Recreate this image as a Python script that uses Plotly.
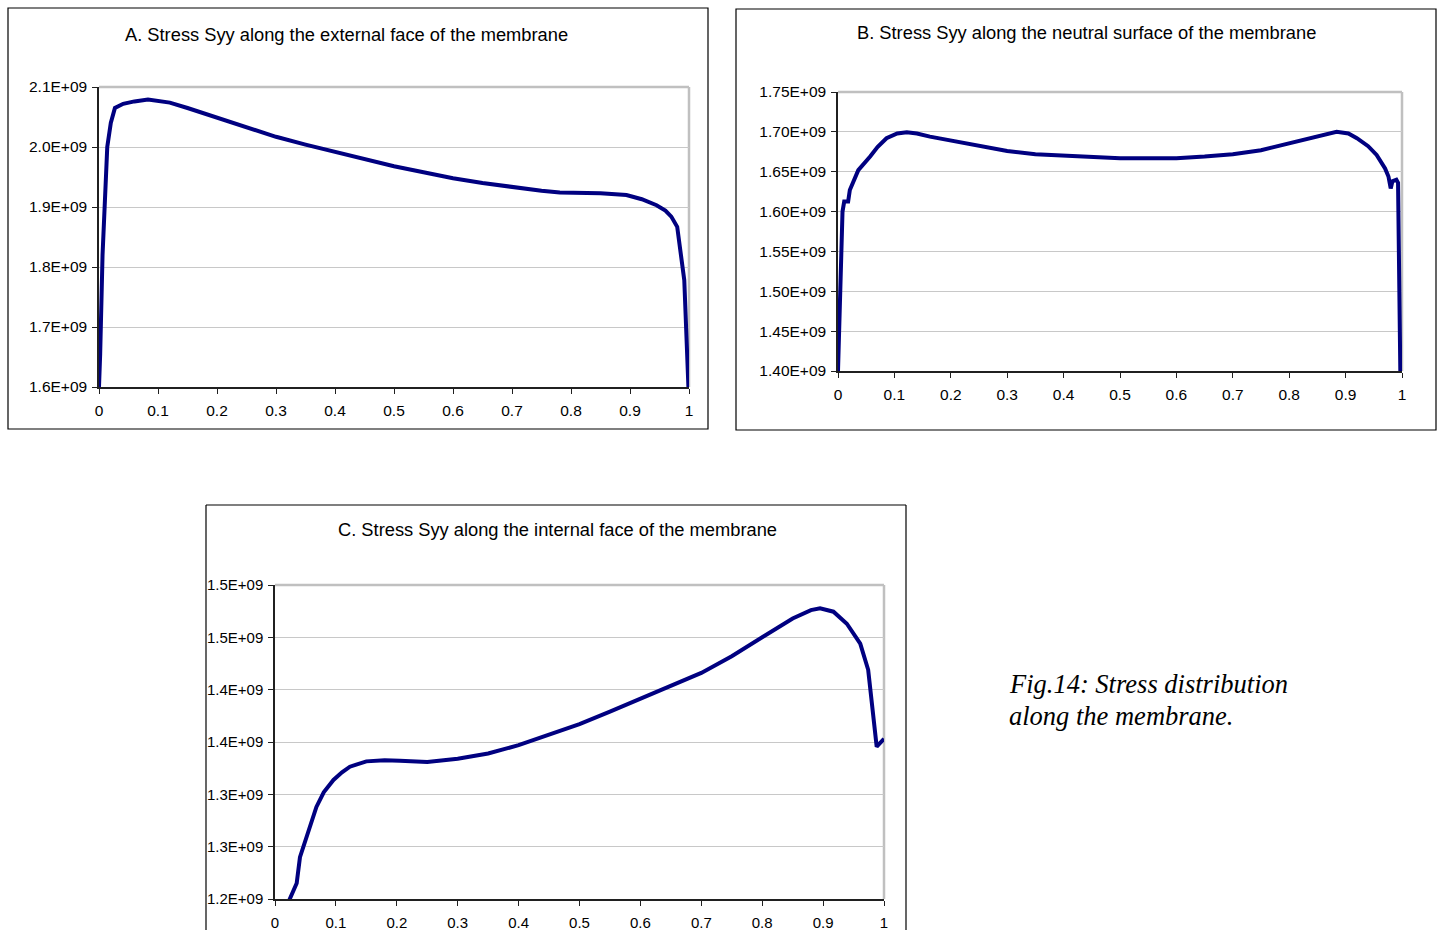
import plotly.graph_objects as go

W, H = 1442, 930

# ---- Data ----
a_x = [0.0, 0.002, 0.006, 0.010, 0.014, 0.020, 0.027, 0.041, 0.060, 0.083, 0.100, 0.120, 0.150,
       0.175, 0.200, 0.250, 0.300, 0.350, 0.400, 0.450, 0.500, 0.550, 0.600, 0.650, 0.700, 0.750,
       0.781, 0.850, 0.894, 0.920, 0.945, 0.960, 0.970, 0.980, 0.992, 0.999]
a_y = [1.600, 1.655, 1.820, 1.917, 2.000, 2.040, 2.065, 2.072, 2.076, 2.079, 2.077, 2.074, 2.065,
       2.057, 2.048, 2.032, 2.017, 2.004, 1.992, 1.980, 1.968, 1.958, 1.948, 1.940, 1.933, 1.927,
       1.924, 1.923, 1.920, 1.913, 1.903, 1.894, 1.884, 1.867, 1.778, 1.600]

b_x = [0.0, 0.004, 0.008, 0.011, 0.018, 0.021, 0.036, 0.057, 0.070, 0.086, 0.105, 0.122, 0.140,
       0.163, 0.200, 0.250, 0.300, 0.350, 0.400, 0.450, 0.500, 0.550, 0.600, 0.650, 0.700, 0.750,
       0.800, 0.850, 0.884, 0.905, 0.920, 0.940, 0.955, 0.970, 0.976,
       0.980, 0.983, 0.990, 0.993, 0.997]
b_y = [1.400, 1.520, 1.600, 1.6125, 1.6125, 1.627, 1.652, 1.669, 1.681, 1.692, 1.698, 1.6995, 1.698,
       1.694, 1.689, 1.682, 1.676, 1.672, 1.670, 1.668, 1.667, 1.667, 1.667, 1.669, 1.672, 1.677,
       1.686, 1.695, 1.700, 1.698, 1.692, 1.682, 1.671, 1.654, 1.644,
       1.629, 1.638, 1.640, 1.636, 1.400]

c_x = [0.0235, 0.030, 0.0356, 0.041, 0.052, 0.068, 0.080, 0.096, 0.110, 0.123, 0.150, 0.180, 0.205,
       0.250, 0.300, 0.350, 0.400, 0.450, 0.500, 0.550, 0.600, 0.650, 0.700, 0.750, 0.800, 0.850,
       0.880, 0.895, 0.917, 0.939, 0.961, 0.974, 0.988, 1.000]
c_y = [1.199, 1.208, 1.215, 1.240, 1.2595, 1.288, 1.302, 1.3137, 1.321, 1.3264, 1.3315, 1.3325, 1.332,
       1.331, 1.334, 1.339, 1.347, 1.357, 1.367, 1.379, 1.391, 1.403, 1.416, 1.432, 1.450, 1.468,
       1.476, 1.4777, 1.4745, 1.463, 1.444, 1.419, 1.3455, 1.353]

x_ticks = [i / 10 for i in range(11)]
x_labels = ["0", "0.1", "0.2", "0.3", "0.4", "0.5", "0.6", "0.7", "0.8", "0.9", "1"]

a_yticks = [1.6, 1.7, 1.8, 1.9, 2.0, 2.1]
a_ylabels = ["1.6E+09", "1.7E+09", "1.8E+09", "1.9E+09", "2.0E+09", "2.1E+09"]
b_yticks = [1.40, 1.45, 1.50, 1.55, 1.60, 1.65, 1.70, 1.75]
b_ylabels = ["1.40E+09", "1.45E+09", "1.50E+09", "1.55E+09", "1.60E+09", "1.65E+09", "1.70E+09", "1.75E+09"]
c_yticks = [1.20, 1.25, 1.30, 1.35, 1.40, 1.45, 1.50]
c_ylabels = ["1.2E+09", "1.3E+09", "1.3E+09", "1.4E+09", "1.4E+09", "1.5E+09", "1.5E+09"]

titles = ["A. Stress Syy along the external face of the membrane",
          "B. Stress Syy along the neutral surface of the membrane",
          "C. Stress Syy along the internal face of the membrane"]
caption = ["Fig.14: Stress distribution", "along the membrane."]

E9 = 1e9
LINE = "#000080"

def px(x):
    return x / W

def py(y):
    return 1 - y / H

fig = go.Figure()
fig.add_trace(go.Scatter(x=a_x, y=[v * E9 for v in a_y], mode="lines",
                         line=dict(color=LINE, width=4), xaxis="x", yaxis="y", showlegend=False))
fig.add_trace(go.Scatter(x=b_x, y=[v * E9 for v in b_y], mode="lines",
                         line=dict(color=LINE, width=4), xaxis="x2", yaxis="y2", showlegend=False))
fig.add_trace(go.Scatter(x=c_x, y=[v * E9 for v in c_y], mode="lines",
                         line=dict(color=LINE, width=4), xaxis="x3", yaxis="y3", showlegend=False))

def tfont(size):
    return dict(family="Liberation Sans, Arial", size=size, color="#000000")

def xax(dom, anchor, size=15.5):
    return dict(domain=dom, anchor=anchor, range=[0, 1], tickvals=x_ticks, ticktext=x_labels,
                showgrid=False, zeroline=False, showline=True, linecolor="#202020", linewidth=1.5,
                ticks="outside", ticklen=5, tickcolor="#202020", tickwidth=1, tickfont=tfont(size),
                ticklabelstandoff=4, automargin=False, fixedrange=True)

def yax(dom, anchor, rng, tv, tt, size=15.5):
    return dict(domain=dom, anchor=anchor, range=rng, tickvals=[v * E9 for v in tv], ticktext=tt,
                showgrid=True, gridcolor="#c8c8c8", gridwidth=1, zeroline=False, showline=True,
                linecolor="#202020", linewidth=1.5, ticks="outside", ticklen=5, tickcolor="#202020",
                tickwidth=1, tickfont=tfont(size), ticklabelstandoff=2, automargin=False,
                fixedrange=True)

A_dom_x = [px(99), px(689)]
A_dom_y = [py(387), py(87)]
B_dom_x = [px(838), px(1402)]
B_dom_y = [py(371), py(92)]
C_dom_x = [px(275), px(884)]
C_dom_y = [py(899), py(585)]

fig.update_layout(
    width=W, height=H, margin=dict(l=0, r=0, t=0, b=0, autoexpand=False),
    paper_bgcolor="#ffffff", plot_bgcolor="#ffffff",
    xaxis=xax(A_dom_x, "y"),
    yaxis=yax(A_dom_y, "x", [1.6 * E9, 2.1 * E9], a_yticks, a_ylabels),
    xaxis2=xax(B_dom_x, "y2"),
    yaxis2=yax(B_dom_y, "x2", [1.40 * E9, 1.75 * E9], b_yticks, b_ylabels),
    xaxis3=xax(C_dom_x, "y3", size=15),
    yaxis3=yax(C_dom_y, "x3", [1.20 * E9, 1.50 * E9], c_yticks, c_ylabels, size=15),
)

shapes = []
# outer chart boxes
for (x0, y0, x1, y1) in [(8, 8, 708, 429), (736, 9, 1436, 430)]:
    shapes.append(dict(type="rect", xref="paper", yref="paper", x0=px(x0), x1=px(x1),
                       y0=py(y1), y1=py(y0), line=dict(color="#000000", width=1.2),
                       fillcolor="rgba(0,0,0,0)", layer="below"))
# chart C box (bottom is off-page)
for (x0, y0, x1, y1) in [(206, 505, 906, 505), (206, 505, 206, 935), (906, 505, 906, 935)]:
    shapes.append(dict(type="line", xref="paper", yref="paper", x0=px(x0), x1=px(x1),
                       y0=py(y0), y1=py(y1), line=dict(color="#000000", width=1.2)))
# plot-area gray borders (top and right)
for xa, ya in [("x", "y"), ("x2", "y2"), ("x3", "y3")]:
    shapes.append(dict(type="line", xref=xa + " domain", yref=ya + " domain", x0=0, x1=1, y0=1, y1=1,
                       line=dict(color="#c0c0c0", width=2.5), layer="below"))
    shapes.append(dict(type="line", xref=xa + " domain", yref=ya + " domain", x0=1, x1=1, y0=0, y1=1,
                       line=dict(color="#c0c0c0", width=2.5), layer="below"))
fig.update_layout(shapes=shapes)

ann = []
title_font = dict(family="Liberation Sans, Arial", size=18.3, color="#000000")
for t, cx, cy in [(titles[0], 346, 34), (titles[1], 1086, 32), (titles[2], 557, 529)]:
    ann.append(dict(text=t, xref="paper", yref="paper", x=px(cx), y=py(cy), xanchor="center",
                    yanchor="middle", showarrow=False, font=title_font))
cap_font = dict(family="Liberation Serif, Times New Roman", size=26.5, color="#000000", style="italic")
for t, cy in [(caption[0], 684), (caption[1], 716)]:
    ann.append(dict(text=t, xref="paper", yref="paper", x=px(1007), y=py(cy), xanchor="left",
                    yanchor="middle", showarrow=False, font=cap_font))
fig.update_layout(annotations=ann)

fig.write_html("out.html")
